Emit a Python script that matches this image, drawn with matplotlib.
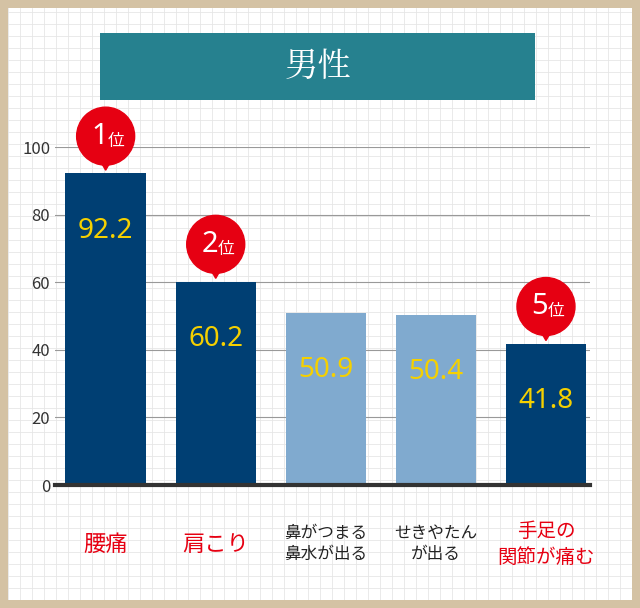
import matplotlib
matplotlib.use("Agg")
import matplotlib.pyplot as plt
from matplotlib.patches import Rectangle, Ellipse, Polygon
import numpy as np

plt.rcParams["font.family"] = "Noto Sans CJK JP"

categories = ["腰痛", "肩こり", "鼻がつまる\n鼻水が出る", "せきやたん\nが出る", "手足の\n関節が痛む"]
values = [92.2, 60.2, 50.9, 50.4, 41.8]
ranks = [1, 2, None, None, 5]
yticks = [0, 20, 40, 60, 80, 100]

DARK = "#003f73"
LIGHT = "#80aacf"
RED = "#e60012"

fig = plt.figure(figsize=(6.4, 6.08), dpi=100)
fig.patch.set_facecolor("#d4c2a4")

# white grid-paper background
bg = fig.add_axes([8 / 640, 8 / 608, 624 / 640, 592 / 608])
bg.set_xlim(0, 624)
bg.set_ylim(0, 592)
bg.add_patch(Rectangle((0, 0), 624, 592, color="white"))
for v in np.arange(0, 625, 12):
    bg.axvline(v, color="#e6e6e6", lw=0.6)
for v in np.arange(0, 593, 12):
    bg.axhline(v, color="#e6e6e6", lw=0.6)
bg.axis("off")

# title box
tb = fig.add_axes([100 / 640, 1 - 100 / 608, 435 / 640, 67 / 608])
tb.set_facecolor("#26818f")
tb.set_xticks([])
tb.set_yticks([])
for s in tb.spines.values():
    s.set_visible(False)
tb.text(0.5, 0.5, "男性", color="white", fontsize=24, ha="center", va="center",
        family="Noto Serif CJK JP", transform=tb.transAxes)

ax = fig.add_axes([55 / 640, 1 - 485 / 608, 535 / 640, 338 / 608])
ax.patch.set_alpha(0)
x = np.arange(len(values))
colors = [DARK if r else LIGHT for r in ranks]
ax.bar(x, values, width=0.73, color=colors, zorder=3)
ax.set_xlim(-0.46, 4.4)
ax.set_ylim(0, 100)
ax.set_yticks(yticks)
ax.tick_params(axis="y", length=0, labelsize=12, colors="#333333")
ax.set_xticks([])
ax.grid(axis="y", color="#999999", lw=0.8, zorder=1)
for s in ["top", "right", "left"]:
    ax.spines[s].set_visible(False)
ax.spines["bottom"].set_color("#333333")
ax.spines["bottom"].set_linewidth(3)
ax.spines["bottom"].set_zorder(5)

# data units per pixel
px_x = 4.86 / 535
px_y = 100 / 338

for i, (v, r) in enumerate(zip(values, ranks)):
    ax.text(i, v - 17, f"{v}", color="#f5d000", fontsize=20, ha="center", va="center",
            family="Noto Sans", zorder=4)
    if r:
        cy = v + 11
        ax.add_patch(Polygon([[i - 8 * px_x, cy - 20 * px_y], [i + 8 * px_x, cy - 20 * px_y],
                              [i, cy - 34 * px_y]],
                             color=RED, clip_on=False, zorder=4))
        ax.add_patch(Ellipse((i, cy), 58 * px_x, 58 * px_y, color=RED, clip_on=False, zorder=4))
        ax.text(i + 0.02, cy, f"{r}", color="white", fontsize=21, ha="right", va="center",
                family="Noto Sans", zorder=5)
        ax.text(i + 0.02, cy - 1.5, "位", color="white", fontsize=12, ha="left", va="center", zorder=5)
    lbl_color = RED if r else "#222222"
    fs = 16 if r and "\n" not in categories[i] else (14 if r else 12)
    ax.text(i, -17.5, categories[i], color=lbl_color, fontsize=fs, ha="center", va="center",
            linespacing=1.3, clip_on=False)

fig.savefig("out.png", dpi=100)
